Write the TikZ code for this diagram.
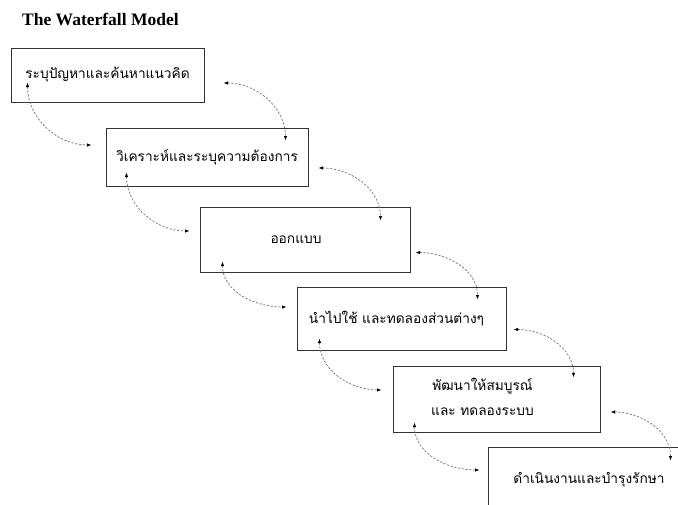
\documentclass[tikz,border=0pt]{standalone}
\usepackage{fontspec}
\setmainfont{Liberation Serif}
\newfontfamily\thaifont[Script=Thai]{Loma}
\usetikzlibrary{arrows.meta,calc}
\begin{document}
\begin{tikzpicture}[x=1pt,y=-1pt,
  box/.style={draw=black!80, line width=1pt, rectangle, inner sep=0pt, fill=white,
    font=\thaifont\fontsize{13.7}{16}\selectfont},
  flow/.style={draw=black!55, line width=0.7pt, dash pattern=on 2.2pt off 1.6pt,
    {Latex[length=4.5pt,width=3.5pt,black]}-{Latex[length=4.5pt,width=3.5pt,black]}},
  ttl/.style={inner sep=0pt, anchor=base west, font=\bfseries\fontsize{17.5}{20}\selectfont}
]
\useasboundingbox (0,0) rectangle (678,504);
\clip (0,0) rectangle (678,504);
\fill[white] (0,0) rectangle (678,504);

\node[ttl] (title) at (22,25) {The Waterfall Model};

\node[box, minimum width=193pt, minimum height=54pt] (b1) at (107.5,75) {ระบุปัญหาและค้นหาแนวคิด};
\node[box, minimum width=202pt, minimum height=58pt] (b2) at (207,157) {วิเคราะห์และระบุความต้องการ};
\node[box, minimum width=210pt, minimum height=65pt] (b3) at (305,239.5) {ออกแบบ\kern18pt};
\node[box, minimum width=209pt, minimum height=63pt] (b4) at (401.5,318.5) {นำไปใช้ และทดลองส่วนต่างๆ\kern10pt};
\node[box, minimum width=207pt, minimum height=66pt] (b5) at (496.5,399) {\begin{tabular}{@{}c@{}}พัฒนาให้สมบูรณ์\\[9pt]และ ทดลองระบบ\end{tabular}\kern28pt};
\node[box, minimum width=202pt, minimum height=66pt] (b6) at (589,480) {ดำเนินงานและบำรุงรักษา};

% forward links
\coordinate (f1s) at ($(b1.east)+(19,8)$);
\coordinate (f1e) at ($(b2.north east)+(-23,13)$);
\coordinate (f2s) at ($(b2.east)+(10,11)$);
\coordinate (f2e) at ($(b3.north east)+(-30,14)$);
\coordinate (f3s) at ($(b3.east)+(5,13)$);
\coordinate (f3e) at ($(b4.north east)+(-29,13)$);
\coordinate (f4s) at ($(b4.east)+(7,11)$);
\coordinate (f4e) at ($(b5.north east)+(-27,12)$);
\coordinate (f5s) at ($(b5.east)+(10,13)$);
\coordinate (f5e) at ($(b6.north west)+(183,14)$);
\foreach \i in {1,...,5}{
  \draw[flow] (f\i s) to[out=0,in=90] (f\i e);
}

% backward links
\coordinate (g1s) at ($(b1.south west)+(17,-20)$);
\coordinate (g1e) at ($(b2.west)+(-14,-12)$);
\coordinate (g2s) at ($(b2.south west)+(21,-14)$);
\coordinate (g2e) at ($(b3.west)+(-10,-8.5)$);
\coordinate (g3s) at ($(b3.south west)+(23,-11)$);
\coordinate (g3e) at ($(b4.west)+(-10,-11.5)$);
\coordinate (g4s) at ($(b4.south west)+(23,-12)$);
\coordinate (g4e) at ($(b5.west)+(-11,-9)$);
\coordinate (g5s) at ($(b5.south west)+(22,-10)$);
\coordinate (g5e) at ($(b6.west)+(-8,-10)$);
\foreach \i in {1,...,5}{
  \draw[flow] (g\i s) to[out=-90,in=180] (g\i e);
}
\end{tikzpicture}
\end{document}
